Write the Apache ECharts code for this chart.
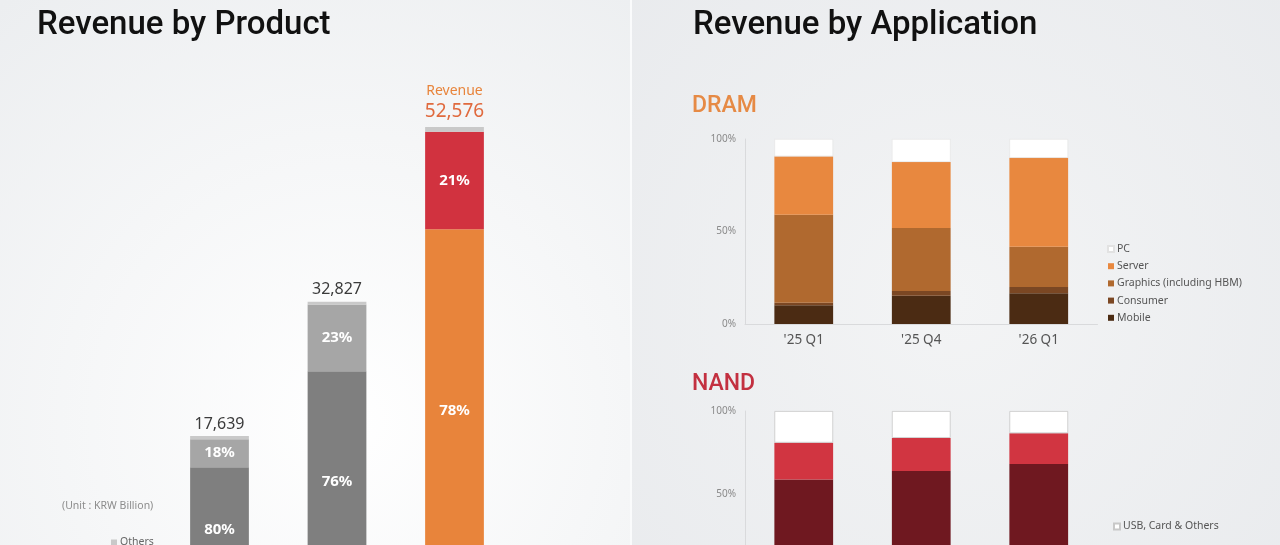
<!DOCTYPE html>
<html>
<head>
<meta charset="utf-8">
<script src="https://cdn.jsdelivr.net/npm/echarts@6/dist/echarts.min.js"></script>
<style>
  html, body { margin: 0; padding: 0; overflow: hidden; width: 1280px; height: 545px; }
  /* the slide is cut off at the bottom: the chart area runs past the window */
  #chart { width: 1280px; height: 600px; }
</style>
</head>
<body>
<div id="chart"></div>
<script>
// quarters shared by all three charts
var quarters = ["'25 Q1", "'25 Q4", "'26 Q1"];

// Revenue by Product (KRW Billion) and shares in %
var revenueTotal = [17639, 32827, 52576];
var dramShare = [80, 76, 78];
var nandShare = [18, 23, 21];

// DRAM revenue by application (%)
var dramMobile   = [10.1, 15.3, 16.6];
var dramConsumer = [1.4, 2.5, 3.4];
var dramGraphics = [47.5, 34.1, 21.8];
var dramServer   = [31.6, 35.7, 48.0];
var dramPC       = [9.4, 12.4, 10.2];

// NAND revenue by application (%)
var nandLower  = [58.8, 63.8, 68.0];
var nandMiddle = [22.1, 20.0, 18.6];
var nandUsb    = [19.1, 16.2, 13.4];

var FONT = 'Noto Sans';

function part(shares) {
    return revenueTotal.map(function (t, i) { return t * shares[i] / 100; });
}
var othersShare = dramShare.map(function (d, i) { return 100 - d - nandShare[i]; });

function coloured(values, colors) {
    return values.map(function (v, i) {
        return { value: v, itemStyle: { color: colors[i] } };
    });
}

function fmt(n) {
    return String(n).replace(/\B(?=(\d{3})+(?!\d))/g, ',');
}

var pctLabel = function (shares) {
    return {
        show: true,
        position: 'inside',
        color: '#fff',
        fontFamily: FONT,
        fontWeight: 'bold',
        fontSize: 15,
        formatter: function (p) { return shares[p.dataIndex] + '%'; }
    };
};

var appAxisLabel = { color: '#8a8a8a', fontSize: 10, fontFamily: FONT, margin: 9, formatter: '{value}%' };
var axisLineGrey = { show: true, lineStyle: { color: '#d9dadc', width: 1 } };

var option = {
    animation: false,
    textStyle: { fontFamily: FONT },
    graphic: [
        {
            type: 'rect', z: -20, silent: true,
            shape: { x: 0, y: 0, width: 630, height: 600 },
            style: {
                fill: {
                    type: 'radial', x: 0.55, y: 0.7, r: 0.9,
                    colorStops: [{ offset: 0, color: '#ffffff' }, { offset: 1, color: '#eceef0' }]
                }
            }
        },
        {
            type: 'rect', z: -20, silent: true,
            shape: { x: 630, y: 0, width: 2, height: 600 },
            style: { fill: '#fafbfc' }
        },
        {
            type: 'rect', z: -20, silent: true,
            shape: { x: 632, y: 0, width: 648, height: 600 },
            style: {
                fill: {
                    type: 'radial', x: 0.5, y: 0.5, r: 0.9,
                    colorStops: [{ offset: 0, color: '#f3f4f5' }, { offset: 1, color: '#e7e9ec' }]
                }
            }
        },
        {
            type: 'text', left: 62, top: 501,
            style: { text: '(Unit : KRW Billion)', fill: '#8c8c8c', fontSize: 10.5, fontFamily: FONT }
        }
    ],
    title: [
        {
            text: 'Revenue by Product', left: 32, top: 4,
            textStyle: { fontFamily: 'Roboto', fontWeight: 500, fontSize: 33, color: '#111' }
        },
        {
            text: 'Revenue by Application', left: 688, top: 4,
            textStyle: { fontFamily: 'Roboto', fontWeight: 500, fontSize: 33, color: '#111' }
        },
        {
            text: 'DRAM', left: 687, top: 90,
            textStyle: { fontFamily: 'Roboto', fontWeight: 500, fontSize: 23, color: '#e68a45' }
        },
        {
            text: 'NAND', left: 687, top: 368,
            textStyle: { fontFamily: 'Roboto', fontWeight: 500, fontSize: 23, color: '#c33040' }
        }
    ],
    legend: [
        {
            data: ['Others'], left: 106, top: 532, icon: 'rect',
            itemWidth: 6, itemHeight: 6, itemGap: 5,
            textStyle: { color: '#666', fontSize: 10.5, fontFamily: FONT, padding: [0, 0, 0, -2] }
        },
        {
            data: ['PC', 'Server', 'Graphics (including HBM)', 'Consumer', 'Mobile'],
            orient: 'vertical', left: 1102, top: 238, icon: 'rect',
            itemWidth: 6, itemHeight: 6, itemGap: 5.2,
            textStyle: { color: '#555', fontSize: 10.5, lineHeight: 12, fontFamily: FONT, padding: [0, 0, 0, -2] }
        },
        {
            data: ['USB, Card & Others'], left: 1108, top: 516, icon: 'rect',
            itemWidth: 6, itemHeight: 6,
            textStyle: { color: '#555', fontSize: 10.5, fontFamily: FONT, padding: [0, 0, 0, -2] }
        }
    ],
    grid: [
        { left: 160.75, width: 352.5, top: 61.4, height: 530.6 },
        { left: 745, width: 352.5, top: 139, height: 185 },
        { left: 745, width: 352.5, top: 411, height: 180 }
    ],
    xAxis: [
        { type: 'category', gridIndex: 0, data: quarters, show: false },
        {
            type: 'category', gridIndex: 1, data: quarters,
            axisLine: axisLineGrey, axisTick: { show: false },
            axisLabel: { color: '#555', fontSize: 13.5, fontFamily: FONT, margin: 9 }
        },
        {
            type: 'category', gridIndex: 2, data: quarters,
            axisLine: axisLineGrey, axisTick: { show: false },
            axisLabel: { color: '#555', fontSize: 13.5, fontFamily: FONT, margin: 9 }
        }
    ],
    yAxis: [
        { type: 'value', gridIndex: 0, min: 0, max: 60000, show: false, splitLine: { show: false } },
        {
            type: 'value', gridIndex: 1, min: 0, max: 100, interval: 50,
            axisLine: axisLineGrey, axisTick: { show: false }, splitLine: { show: false },
            axisLabel: appAxisLabel
        },
        {
            type: 'value', gridIndex: 2, min: 0, max: 100, interval: 50,
            axisLine: axisLineGrey, axisTick: { show: false }, splitLine: { show: false },
            axisLabel: appAxisLabel
        }
    ],
    series: [
        // Revenue by Product
        {
            name: 'DRAM', type: 'bar', stack: 'prod', xAxisIndex: 0, yAxisIndex: 0, barWidth: '50%',
            itemStyle: { color: '#7f7f7f' },
            data: coloured(part(dramShare), ['#7f7f7f', '#7f7f7f', '#e8843b']),
            label: pctLabel(dramShare)
        },
        {
            name: 'NAND', type: 'bar', stack: 'prod', xAxisIndex: 0, yAxisIndex: 0,
            itemStyle: { color: '#a6a6a6' },
            data: coloured(part(nandShare), ['#a6a6a6', '#a6a6a6', '#d1323f']),
            label: pctLabel(nandShare)
        },
        {
            name: 'Others', type: 'bar', stack: 'prod', xAxisIndex: 0, yAxisIndex: 0,
            itemStyle: { color: '#c9c9c9' },
            data: part(othersShare),
            label: {
                show: true, position: 'top', distance: 4,
                formatter: function (p) {
                    var t = fmt(revenueTotal[p.dataIndex]);
                    return p.dataIndex === 2 ? '{rev|Revenue}\n{big|' + t + '}' : '{num|' + t + '}';
                },
                rich: {
                    num: { fontSize: 16, color: '#3b3b3b', fontFamily: FONT },
                    rev: { fontSize: 14, color: '#e8843b', fontFamily: FONT, lineHeight: 20 },
                    big: { fontSize: 19, color: '#e06a3e', fontFamily: FONT, lineHeight: 22 }
                }
            }
        },
        // DRAM by application
        {
            name: 'Mobile', type: 'bar', stack: 'dram', xAxisIndex: 1, yAxisIndex: 1, barWidth: '50%',
            itemStyle: { color: '#4b2b13' }, data: dramMobile
        },
        {
            name: 'Consumer', type: 'bar', stack: 'dram', xAxisIndex: 1, yAxisIndex: 1,
            itemStyle: { color: '#7b4723' }, data: dramConsumer
        },
        {
            name: 'Graphics (including HBM)', type: 'bar', stack: 'dram', xAxisIndex: 1, yAxisIndex: 1,
            itemStyle: { color: '#b0692f' }, data: dramGraphics
        },
        {
            name: 'Server', type: 'bar', stack: 'dram', xAxisIndex: 1, yAxisIndex: 1,
            itemStyle: { color: '#e8883f' }, data: dramServer
        },
        {
            name: 'PC', type: 'bar', stack: 'dram', xAxisIndex: 1, yAxisIndex: 1,
            itemStyle: { color: '#ffffff', borderColor: '#e2e2e2', borderWidth: 0.6 }, data: dramPC
        },
        // NAND by application
        {
            name: 'NAND lower', type: 'bar', stack: 'nand', xAxisIndex: 2, yAxisIndex: 2, barWidth: '50%',
            itemStyle: { color: '#6f1820' }, data: nandLower
        },
        {
            name: 'NAND middle', type: 'bar', stack: 'nand', xAxisIndex: 2, yAxisIndex: 2,
            itemStyle: { color: '#d13541' }, data: nandMiddle
        },
        {
            name: 'USB, Card & Others', type: 'bar', stack: 'nand', xAxisIndex: 2, yAxisIndex: 2,
            itemStyle: { color: '#ffffff', borderColor: '#c8c8c8', borderWidth: 0.8 }, data: nandUsb
        }
    ]
};

var myChart = echarts.init(document.getElementById('chart'));
myChart.setOption(option);
</script>
</body>
</html>
